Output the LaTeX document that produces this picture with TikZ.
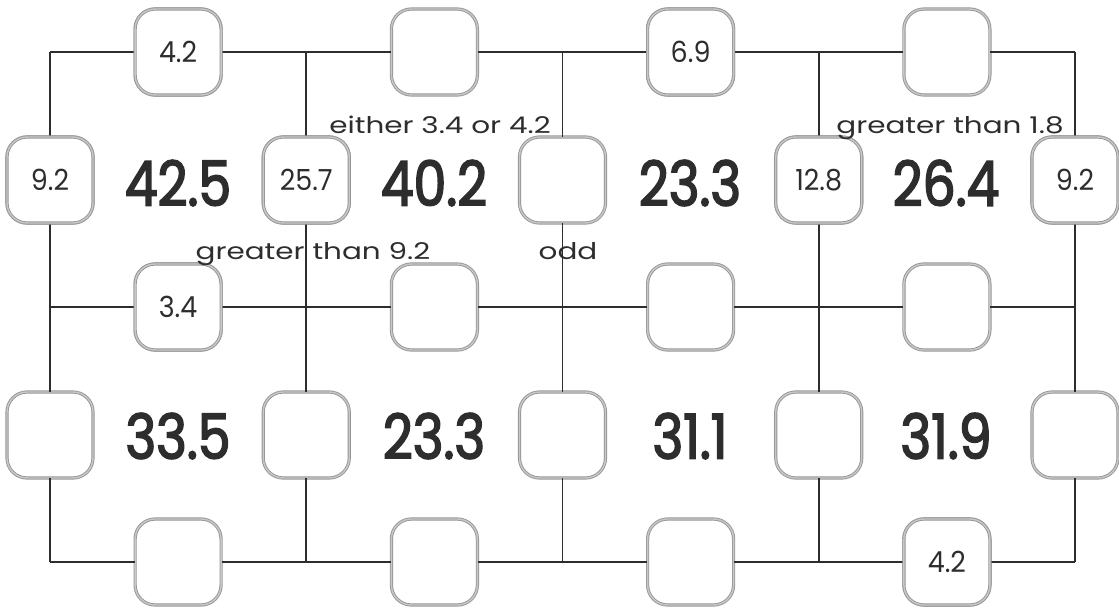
\documentclass[tikz,border=0pt]{standalone}
\usepackage{fontspec}
\setmainfont{Poppins}
\newfontfamily\totalfont{Poppins}[FakeStretch=0.84, FakeBold=2.6]
\newfontfamily\slotfont{Poppins}[FakeStretch=0.93]
\newfontfamily\hintfont{Poppins}[FakeStretch=1.28]
\begin{document}
\begin{tikzpicture}[x=1pt,y=-1pt,
  gridline/.style={draw={rgb,255:red,45;green,45;blue,45}, line width=1.8pt},
  slot/.style={rectangle, rounded corners=20pt, minimum width=86pt, minimum height=86pt,
    fill=white, draw={rgb,255:red,150;green,150;blue,150}, double={rgb,255:red,200;green,200;blue,200},
    double distance=1.4pt, line width=0.9pt, inner sep=0pt,
    font=\slotfont\fontsize{29}{29}\selectfont, text={rgb,255:red,45;green,45;blue,45}},
  total/.style={font=\totalfont\fontsize{62}{62}\selectfont, text={rgb,255:red,45;green,45;blue,45}},
  hint/.style={font=\hintfont\fontsize{23}{23}\selectfont, text={rgb,255:red,45;green,45;blue,45}, inner sep=0pt}]
\useasboundingbox (0,0) rectangle (1119,611);

% grid corners: columns 0..4, rows 0..2
\foreach \i/\x in {0/50,1/306.25,2/562.5,3/818.75,4/1075}
  \foreach \j/\y in {0/52,1/307,2/562}
    \coordinate (g-\i-\j) at (\x,\y);

% slots on the horizontal edges
\foreach \i/\x in {0/178.1,1/434.4,2/690.6,3/946.9}
  \foreach \j/\y in {0/52,1/307,2/562}
    \node[slot] (h-\i-\j) at (\x,\y) {};

% slots on the vertical edges
\foreach \i/\x in {0/50,1/306.25,2/562.5,3/818.75,4/1075}
  \foreach \j/\y in {0/180,1/435}
    \node[slot] (v-\i-\j) at (\x,\y) {};

% connectors
\foreach \i/\ii in {0/1,1/2,2/3,3/4}
  \foreach \j in {0,1,2}
    \draw[gridline] (g-\i-\j) -- (h-\i-\j) (h-\i-\j) -- (g-\ii-\j);
\foreach \i in {0,...,4}
  \foreach \j/\jj in {0/1,1/2}
    \draw[gridline] (g-\i-\j) -- (v-\i-\j) (v-\i-\j) -- (g-\i-\jj);
\draw[gridline, line cap=rect] (g-0-0) -- +(0,0) (g-4-0) -- +(0,0) (g-0-2) -- +(0,0) (g-4-2) -- +(0,0);

% given values
\node[slot] at (h-0-0) {4.2};
\node[slot] at (h-2-0) {6.9};
\node[slot] at (h-0-1) {3.4};
\node[slot] at (h-3-2) {4.2};
\node[slot] at (v-0-0) {9.2};
\node[slot] at (v-1-0) {25.7};
\node[slot] at (v-3-0) {12.8};
\node[slot] at (v-4-0) {9.2};

% cell totals
\node[total] (t-0-0) at (178,183) {42.5};
\node[total] (t-1-0) at (434,183) {40.2};
\node[total] (t-2-0) at (690,183) {23.3};
\node[total] (t-3-0) at (946,183) {26.4};
\node[total] (t-0-1) at (178,436) {33.5};
\node[total] (t-1-1) at (434,436) {23.3};
\node[total] (t-2-1) at (690,436) {31.1};
\node[total] (t-3-1) at (946,436) {31.9};

% clues
\node[hint, anchor=base] (c1) at (440,133) {either 3.4 or 4.2};
\node[hint, anchor=base] (c2) at (950,133) {greater than 1.8};
\node[hint, anchor=base] (c3) at (313,259) {greater than 9.2};
\node[hint, anchor=base] (c4) at (568,259) {odd};
\end{tikzpicture}
\end{document}
